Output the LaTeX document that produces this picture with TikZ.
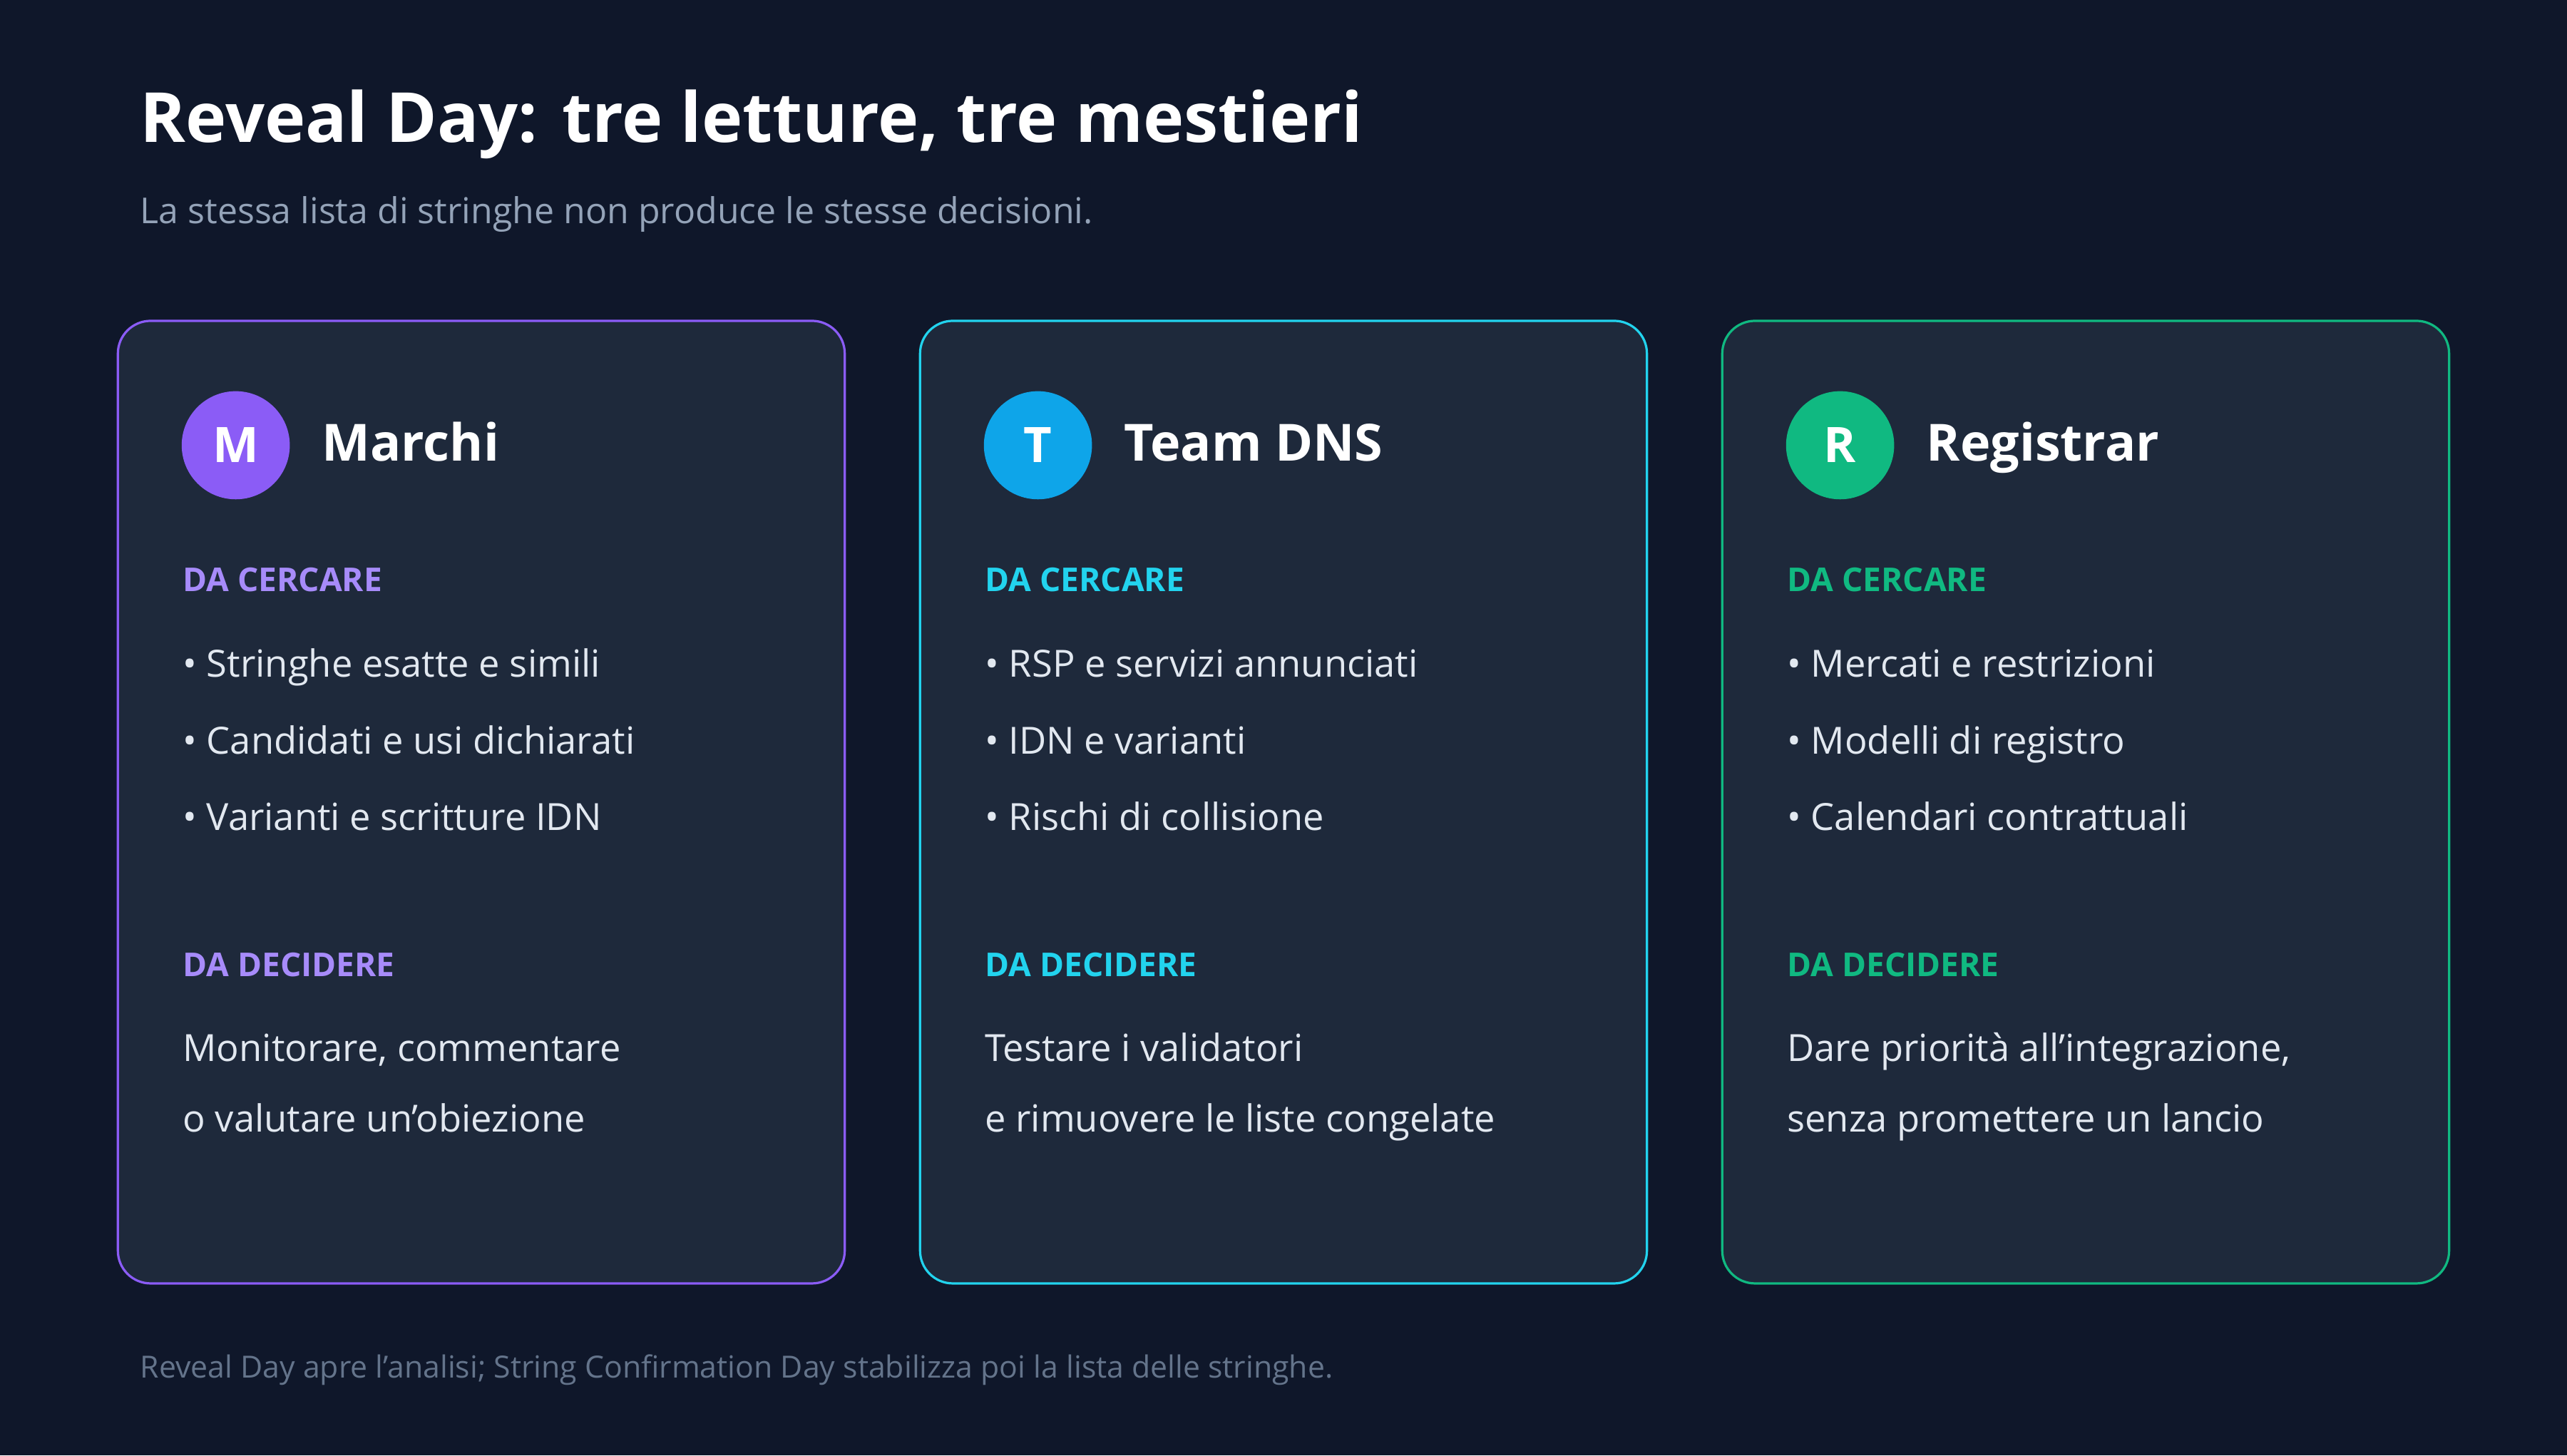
\documentclass[tikz,border=0pt]{standalone}
\usepackage{fontspec}
\setmainfont{Open Sans}[Ligatures=ResetAll]
\definecolor{bg}{HTML}{0F172A}
\definecolor{card}{HTML}{1E293B}
\definecolor{sub}{HTML}{94A3B8}
\definecolor{foot}{HTML}{64748B}
\definecolor{txt}{HTML}{E2E8F0}
\definecolor{purpleB}{HTML}{8B5CF6}
\definecolor{purpleL}{HTML}{A78BFA}
\definecolor{cyanB}{HTML}{22D3EE}
\definecolor{cyanC}{HTML}{0EA5E9}
\definecolor{greenB}{HTML}{10B981}
\tikzset{
  cardbox/.style={draw=#1,fill=card,rounded corners=0.2cm,line width=0.4pt},
  badge/.style={circle,fill=#1,minimum size=0.66cm,inner sep=0pt,text=white,font=\fontsize{8.5}{10}\selectfont\bfseries},
  head/.style={anchor=west,inner sep=0pt,text height=1.5ex,text depth=0.5ex,text=white,font=\fontsize{8.9}{10}\selectfont\bfseries},
  lab/.style={anchor=west,inner sep=0pt,text height=1.5ex,text depth=0.5ex,text=#1,font=\fontsize{5.7}{7}\selectfont\bfseries},
  item/.style={anchor=west,inner sep=0pt,text height=1.5ex,text depth=0.5ex,text=txt,font=\fontsize{6.5}{8}\selectfont},
}
\begin{document}
\begin{tikzpicture}[x=0.01cm,y=-0.01cm]
\fill[bg] (0,0) rectangle (1568,889);
\node[anchor=west,inner sep=0pt,text=white,font=\fontsize{12}{14}\selectfont\bfseries] (title) at (85,76) {Reveal Day: tre letture, tre mestieri};
\node[anchor=west,inner sep=0pt,text=sub,font=\fontsize{6.2}{7}\selectfont] (subtitle) at (85,131) {La stessa lista di stringhe non produce le stesse decisioni.};
\foreach \i/\bc/\cc/\lc/\l/\name/\a/\b/\c/\d/\e in {
  0/purpleB/purpleB/purpleL/M/Marchi/Stringhe esatte e simili/Candidati e usi dichiarati/Varianti e scritture IDN/{Monitorare, commentare}/{o valutare un'obiezione},
  1/cyanB/cyanC/cyanB/T/Team DNS/RSP e servizi annunciati/IDN e varianti/Rischi di collisione/Testare i validatori/e rimuovere le liste congelate,
  2/greenB/greenB/greenB/R/Registrar/Mercati e restrizioni/Modelli di registro/Calendari contrattuali/{Dare priorità all'integrazione,}/senza promettere un lancio}{
  \pgfmathsetmacro{\xo}{\i*490}
  \draw[cardbox=\bc] (72+\xo,196) rectangle (516+\xo,784);
  \node[badge=\cc] (badge\i) at (144+\xo,272) {\l};
  \node[head] (head\i) at (196+\xo,272) {\name};
  \node[lab=\lc] (find\i) at (111+\xo,352) {DA CERCARE};
  \node[item] (itemA\i) at (111+\xo,404) {• \a};
  \node[item] (itemB\i) at (111+\xo,451) {• \b};
  \node[item] (itemC\i) at (111+\xo,498) {• \c};
  \node[lab=\lc] (decide\i) at (111+\xo,587) {DA DECIDERE};
  \node[item] (decA\i) at (111+\xo,639) {\d};
  \node[item] (decB\i) at (111+\xo,682) {\e};
}
\node[anchor=west,inner sep=0pt,text=foot,font=\fontsize{5.3}{6}\selectfont] (footer) at (85,837) {Reveal Day apre l'analisi; String Confirmation Day stabilizza poi la lista delle stringhe.};
\end{tikzpicture}
\end{document}
